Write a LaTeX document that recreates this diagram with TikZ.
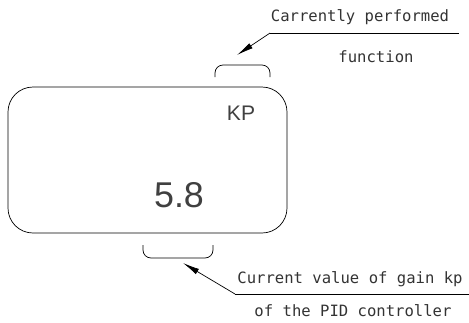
\documentclass[tikz,border=0pt]{standalone}
\usepackage{fontspec}
\setmonofont{DejaVu Sans Mono}
\setsansfont{Liberation Sans}
\usetikzlibrary{arrows.meta,positioning}

\begin{document}
\begin{tikzpicture}[x=0.03cm,y=-0.03cm,>={Latex[length=5mm,width=1.8mm]}]
  \tikzstyle{panel}=[draw,line width=0.6pt,rounded corners=0.75cm,minimum width=8.37cm,minimum height=4.38cm]
  \tikzstyle{bracket}=[draw,line width=0.6pt,rounded corners=0.24cm]
  \tikzstyle{note}=[inner sep=0pt,text=black!80,font=\fontsize{13.3}{16}\selectfont\ttfamily]
  \tikzstyle{leader}=[line width=0.6pt]
  \useasboundingbox (0,0) rectangle (469,322);
  % display panel
  \node[panel] (display) at (147.5,160) {};
  \node[inner sep=0pt,text=black!75,font=\fontsize{18}{20}\selectfont\sffamily] (mode) at (241,113) {KP};
  \node[inner sep=0pt,text=black!75,font=\fontsize{30.6}{32}\selectfont\sffamily] (value) at (179,195) {5.8};
  % brackets over the fields
  \draw[bracket] (215,77) -- (215,65) -- (270,65) -- (270,77);
  \draw[bracket] (143,245) -- (143,258) -- (213,258) -- (213,245);
  % upper label
  \node[note] (fnline1) at (360,17) {Carrently performed};
  \node[note] (fnline2) at (376,57) {function};
  \coordinate (fnknee) at (270,33);
  \coordinate (fnend) at (459,33);
  \coordinate (fntip) at (237,55);
  \draw[leader] (fnend) -- (fnknee);
  \draw[leader,->] (fnknee) -- (fntip);
  % lower label
  \node[note] (kpline1) at (350,279) {Current value of gain kp};
  \node[note] (kpline2) at (353,311) {of the PID controller};
  \coordinate (kpknee) at (235,294);
  \coordinate (kpend) at (469,294);
  \coordinate (kptip) at (183,263);
  \draw[leader] (kpend) -- (kpknee);
  \draw[leader,->] (kpknee) -- (kptip);
\end{tikzpicture}
\end{document}
